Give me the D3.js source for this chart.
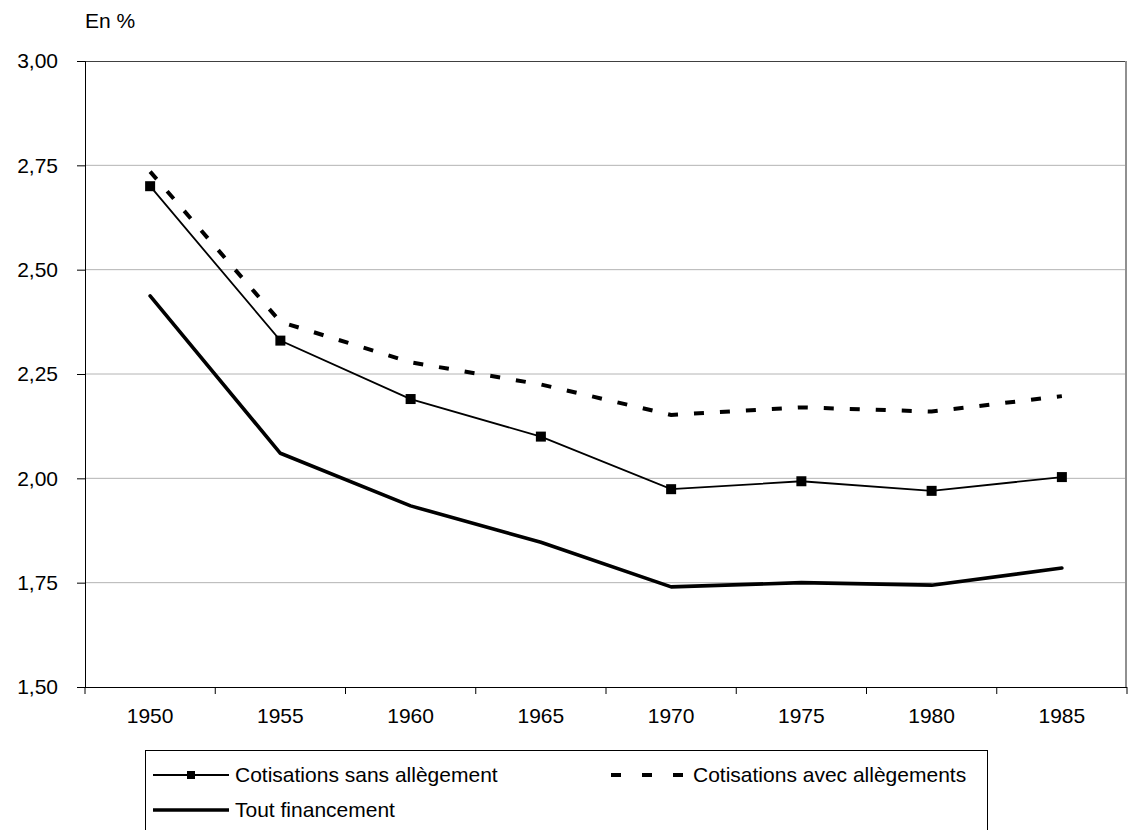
<!DOCTYPE html>
<html>
<head>
<meta charset="utf-8">
<script src="https://cdn.jsdelivr.net/npm/d3@7"></script>
<style>
  body { margin: 0; background: #fff; }
  text { font-family: "Liberation Sans", Arial, sans-serif; fill: #000; }
</style>
</head>
<body>
<svg id="screen"></svg>
<script>
// data
const years = ["1950", "1955", "1960", "1965", "1970", "1975", "1980", "1985"]
const sansAllegement = [2.70, 2.33, 2.19, 2.10, 1.974, 1.993, 1.97, 2.003]
const avecAllegements = [2.735, 2.375, 2.278, 2.225, 2.152, 2.17, 2.16, 2.197]
const toutFinancement = [2.437, 2.06, 1.934, 1.847, 1.74, 1.75, 1.744, 1.785]
const yTicks = [1.5, 1.75, 2.0, 2.25, 2.5, 2.75, 3.0]

let svg = {width: 1130, height: 830}
let margin = {top: 61, left: 85, right: 3, bottom: 143}
let plot = {width: svg.width - margin.left - margin.right,
            height: svg.height - margin.top - margin.bottom}

let frame = d3.select('#screen')
  .attr("width", svg.width)
  .attr("height", svg.height)

let g = frame.append("g")
  .attr("transform", "translate(" + margin.left + "," + margin.top + ")")

let x = d3.scaleBand().domain(years).range([0, plot.width])
let y = d3.scaleLinear().domain([1.5, 3.0]).range([plot.height, 0])
let fmt = d => d3.format(".2f")(d).replace(".", ",")

// gridlines
g.selectAll(".grid")
  .data(yTicks.filter(d => d > 1.5 && d < 3))
  .enter().append("line")
  .attr("x1", 0).attr("x2", plot.width)
  .attr("y1", d => y(d)).attr("y2", d => y(d))
  .attr("stroke", "#b4b4b4").attr("stroke-width", 1)

// plot border top / right
g.append("line").attr("x1", 0).attr("x2", plot.width)
  .attr("y1", 0.5).attr("y2", 0.5)
  .attr("stroke", "#404040").attr("stroke-width", 1)
g.append("line").attr("x1", plot.width - 1).attr("x2", plot.width - 1)
  .attr("y1", 0).attr("y2", plot.height)
  .attr("stroke", "#909090").attr("stroke-width", 2)

// y axis
let yAxis = d3.axisLeft(y).tickValues(yTicks).tickSize(8).tickPadding(19).tickFormat(fmt)
let ya = g.append("g").call(yAxis)
ya.select(".domain").attr("stroke", "#000")
ya.selectAll("text").attr("font-size", 21).attr("font-family", null)

// x axis with ticks on band boundaries
let xa = g.append("g").attr("transform", "translate(0," + plot.height + ")")
xa.append("line").attr("x1", -8).attr("x2", plot.width).attr("y1", 0.5).attr("y2", 0.5)
  .attr("stroke", "#000")
xa.selectAll(".xt")
  .data(years.concat(["end"]))
  .enter().append("line")
  .attr("x1", (d, i) => i < years.length ? x(d) : plot.width)
  .attr("x2", (d, i) => i < years.length ? x(d) : plot.width)
  .attr("y1", 0).attr("y2", 7)
  .attr("stroke", "#000")
xa.selectAll(".xl")
  .data(years)
  .enter().append("text")
  .attr("x", d => x(d) + x.bandwidth() / 2)
  .attr("y", 36)
  .attr("text-anchor", "middle")
  .attr("font-size", 21)
  .text(d => d)

// unit
frame.append("text").attr("x", 85).attr("y", 28).attr("font-size", 21).text("En %")

// lines
let line = d3.line()
  .x((d, i) => x(years[i]) + x.bandwidth() / 2)
  .y(d => y(d))

g.append("path").datum(avecAllegements)
  .attr("d", line).attr("fill", "none")
  .attr("stroke", "#000").attr("stroke-width", 4)
  .attr("stroke-dasharray", "10,16")

g.append("path").datum(toutFinancement)
  .attr("d", line).attr("fill", "none")
  .attr("stroke", "#000").attr("stroke-width", 3.6)
  .attr("stroke-linejoin", "round").attr("stroke-linecap", "round")

g.append("path").datum(sansAllegement)
  .attr("d", line).attr("fill", "none")
  .attr("stroke", "#000").attr("stroke-width", 1.8)

g.selectAll(".mk")
  .data(sansAllegement)
  .enter().append("rect")
  .attr("x", (d, i) => x(years[i]) + x.bandwidth() / 2 - 5)
  .attr("y", d => y(d) - 5)
  .attr("width", 10).attr("height", 10)
  .attr("fill", "#000")

// legend
let lg = frame.append("g")
lg.append("rect")
  .attr("x", 145.5).attr("y", 750.5).attr("width", 842).attr("height", 120)
  .attr("fill", "none").attr("stroke", "#000").attr("stroke-width", 1)

// row 1: sans allegement
lg.append("line").attr("x1", 153).attr("x2", 229).attr("y1", 775).attr("y2", 775)
  .attr("stroke", "#000").attr("stroke-width", 1.8)
lg.append("rect").attr("x", 187).attr("y", 771).attr("width", 8).attr("height", 8).attr("fill", "#000")
lg.append("text").attr("x", 235).attr("y", 775).attr("dy", "0.35em")
  .attr("font-size", 21).text("Cotisations sans allègement")

// row 1: avec allegements
lg.append("line").attr("x1", 611).attr("x2", 684).attr("y1", 775).attr("y2", 775)
  .attr("stroke", "#000").attr("stroke-width", 4)
  .attr("stroke-dasharray", "10,21")
lg.append("text").attr("x", 693).attr("y", 775).attr("dy", "0.35em")
  .attr("font-size", 21).text("Cotisations avec allègements")

// row 2: tout financement
lg.append("line").attr("x1", 153).attr("x2", 229).attr("y1", 810).attr("y2", 810)
  .attr("stroke", "#000").attr("stroke-width", 3.6)
lg.append("text").attr("x", 235).attr("y", 810).attr("dy", "0.35em")
  .attr("font-size", 21).text("Tout financement")
</script>
</body>
</html>
